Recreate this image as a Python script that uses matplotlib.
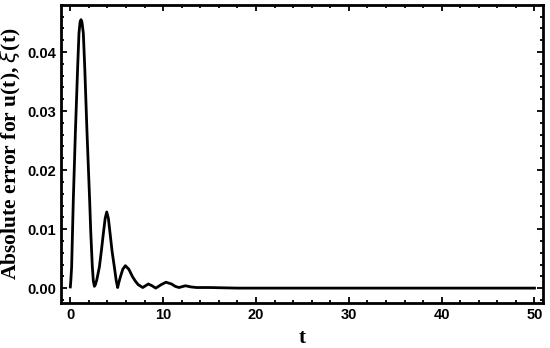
import numpy as np
import matplotlib.pyplot as plt
from matplotlib.ticker import MultipleLocator

# values
t = [0.0, 0.05, 0.14, 0.32, 0.54, 0.79, 0.93, 1.05, 1.15, 1.25, 1.4, 1.55, 1.8,
     2.08, 2.2, 2.37, 2.48, 2.59, 2.7, 2.85, 3.13, 3.35, 3.56, 3.75, 3.92, 4.1,
     4.28, 4.5, 4.74, 4.95, 5.1, 5.2, 5.39, 5.65, 5.93, 6.3, 6.71, 7.0, 7.3,
     7.8, 8.1, 8.4, 8.8, 9.2, 9.8, 10.3, 10.9, 11.3, 11.7, 12.4, 13.0, 13.6,
     15.0, 16.5, 18.0, 20.0, 30.0, 40.0, 50.0]
err = [0.0002, 0.0012, 0.0036, 0.0149, 0.0262, 0.0375, 0.0432, 0.0451, 0.0455,
       0.0451, 0.0432, 0.0375, 0.0262, 0.0149, 0.0095, 0.0036, 0.0012, 0.0003,
       0.0006, 0.0014, 0.0036, 0.0064, 0.0093, 0.0118, 0.0129, 0.0118, 0.0093,
       0.0062, 0.0036, 0.0012, 0.0001, 0.0008, 0.0019, 0.0032, 0.0038, 0.0032,
       0.0019, 0.0012, 0.0006, 0.0001, 0.0004, 0.0007, 0.0004, 0.0000, 0.0006,
       0.0010, 0.0007, 0.0003, 0.0001, 0.0004, 0.0002, 0.0001, 0.0001, 0.00005,
       0.0, 0.0, 0.0, 0.0, 0.0]

fig = plt.figure(figsize=(5.5, 3.48), dpi=100)
ax = fig.add_axes([0.111, 0.129, 0.876, 0.857])
ax.plot(t, err, color='black', lw=2.0, solid_joinstyle='round')

ax.set_xlim(-1.0, 50.9)
ax.set_ylim(-0.00254, 0.048)
ax.xaxis.set_major_locator(MultipleLocator(10))
ax.xaxis.set_minor_locator(MultipleLocator(2))
ax.yaxis.set_major_locator(MultipleLocator(0.01))
ax.yaxis.set_minor_locator(MultipleLocator(0.002))
ax.yaxis.set_major_formatter(plt.FormatStrFormatter('%.2f'))
ax.tick_params(which='both', direction='in', top=True, right=True, width=1.3)
ax.tick_params(which='major', length=4)
ax.tick_params(which='minor', length=2)
for lab in ax.get_xticklabels() + ax.get_yticklabels():
    lab.set_fontfamily('Liberation Sans')
    lab.set_fontweight('bold')
    lab.set_fontsize(10.5)
for s in ax.spines.values():
    s.set_linewidth(2)

ax.set_xlabel('t', fontfamily='Liberation Serif', fontweight='bold', fontsize=15)
ax.set_ylabel(r'Absolute error for u(t), $\mathit{\xi}$(t)', fontfamily='Liberation Serif',
              fontweight='bold', fontsize=15.5, labelpad=3)

fig.savefig('out.png', dpi=100)
